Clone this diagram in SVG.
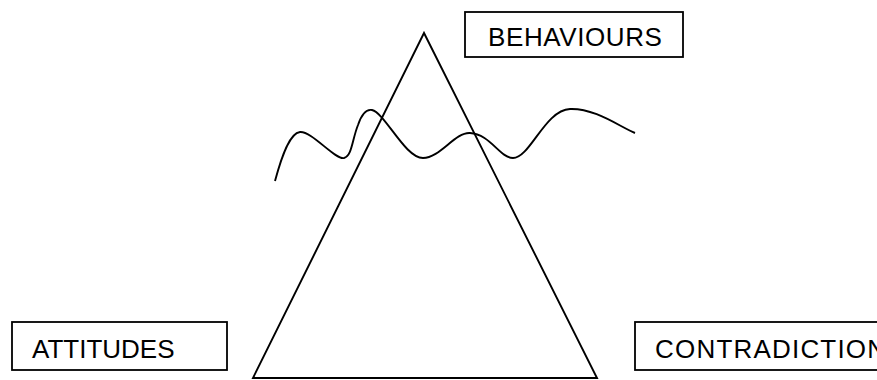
<svg xmlns="http://www.w3.org/2000/svg" width="877" height="380" viewBox="0 0 877 380">
<style>
.box{fill:#fff;stroke:#000;stroke-width:1.8}
.lbl{font-family:"Liberation Sans",Arial,sans-serif;font-size:26px;fill:#000}
.ln{fill:none;stroke:#000;stroke-width:1.9;stroke-linejoin:miter}
</style>
<rect width="877" height="380" fill="#fff"/>
<g id="connectors">
<polygon id="triangle" class="ln" points="424,33 253,378 597,378"/>
<path id="wave" class="ln" d="M275,181 C282,155 290,133 300,132 C312,131 335,160 344,158 C352,156 352,140 358,125 C362,113 367,109 372,110 C385,113 405,158 423,158 C440,158 455,132 470,133 C490,134 500,158 513,158 C530,158 545,110 570,109 C595,108 620,127 635,133"/>
</g>
<g id="behaviours">
<rect class="box" x="465" y="12" width="218" height="45"/>
<text class="lbl" x="488" y="46" letter-spacing="0.6">BEHAVIOURS</text>
</g>
<g id="attitudes">
<rect class="box" x="12" y="322" width="215" height="48"/>
<text class="lbl" x="32" y="358">ATTITUDES</text>
</g>
<g id="contradiction">
<rect class="box" x="635" y="322" width="260" height="48"/>
<text class="lbl" x="655" y="358" letter-spacing="1.2">CONTRADICTION</text>
</g>
</svg>
